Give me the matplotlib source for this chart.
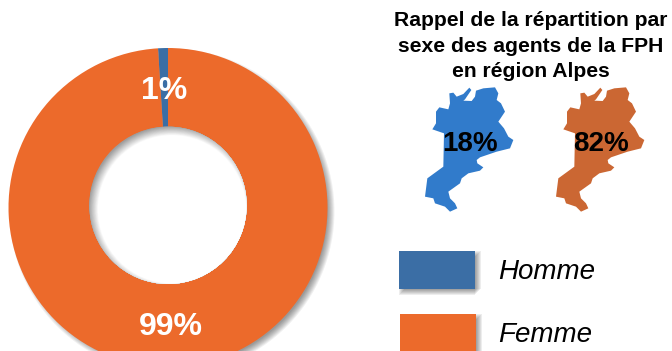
import matplotlib
matplotlib.use("Agg")
import matplotlib.pyplot as plt
from matplotlib.patches import Circle, Polygon, Rectangle

plt.rcParams['font.family'] = ['Liberation Sans', 'DejaVu Sans']

categories = ["Homme", "Femme"]
values = [1, 99]
region_values = [18, 82]
colors = ["#3B6EA5", "#EC6A2B"]
map_colors = ["#317BCB", "#CB6733"]
title = "Rappel de la répartition par\nsexe des agents de la FPH\nen région Alpes"

# Region outline (decorative map shape), in pixels relative to the zoomed crop
region_outline = [(148,70),(160,68),(170,80),(190,72),(208,53),(214,60),(195,88),(190,92),(215,93),
    (225,80),(228,62),(250,55),(285,52),(295,70),(290,90),(303,100),(315,125),(295,155),(312,175),
    (325,200),(340,210),(330,235),(290,245),(240,262),(230,270),(232,280),(250,292),(240,302),
    (205,310),(185,325),(180,340),(145,365),(150,385),(165,400),(172,415),(150,425),(135,410),
    (105,400),(100,385),(75,380),(82,325),(130,290),(132,190),(97,178),(108,160),(108,125),
    (118,112),(145,118),(150,100)]

W, H = 672, 351
fig = plt.figure(figsize=(W/100, H/100), dpi=100)
ax = fig.add_axes([0, 0, 1, 1])
cx, cy, R = 168, H-207.5, 159.5
hx, hy, r = 168, H-205.3, 78.7

ax.pie(values, colors=colors, startangle=90, counterclock=True, center=(cx, cy), radius=R,
       wedgeprops=dict(width=R-r+6, linewidth=0, zorder=2))
ax.set_xlim(0, W); ax.set_ylim(0, H); ax.set_aspect('equal'); ax.axis('off')

# soft outer shadow, lower right
for j in range(8):
    ax.add_patch(Circle((cx+4, cy-4), R+3-j, fc='black', alpha=0.06, ec='none', zorder=1))

# hole with inner shadow from the upper left
hole = Circle((hx, hy), r, fc=(0.62, 0.62, 0.62), ec='none', zorder=3)
ax.add_patch(hole)
n = 14
for i in range(n):
    t = i/(n-1)
    g = 0.62 + 0.38*t
    c = Circle((hx+4, hy-4), r+5-9.5*t, fc=(g, g, g), ec='none', zorder=3.1+i*0.01)
    ax.add_patch(c)
    c.set_clip_path(hole)

ax.text(164, H-91, f"{values[0]}%", color='white', fontsize=23, fontweight='bold', ha='center', va='center', zorder=5)
ax.text(171, H-327, f"{values[1]}%", color='white', fontsize=23, fontweight='bold', ha='center', va='center', zorder=5)

ax.text(531, H-46, title, fontsize=15.2, fontweight='bold', ha='center', va='center', linespacing=1.42, color='black')

for k, (dx, col, v) in enumerate(zip([0, 131], map_colors, region_values)):
    pts = [(400+x/3+dx, H-(70+y/3)) for x, y in region_outline]
    ax.add_patch(Polygon(pts, closed=True, fc=col, ec='none', zorder=2))
    ax.text(470+dx, H-144, f"{v}%", fontsize=20, fontweight='bold', ha='center', va='center', color='black', zorder=6)

# legend with soft shadows
boxes = [(399, 251, 76, 38), (400, 314, 76, 37)]
for (x, y, w, h), col, lab in zip(boxes, colors, categories):
    for j in range(7):
        s = j*1.0
        ax.add_patch(Rectangle((x+s, H-(y+h)-6+s), w, h, fc='black', alpha=0.07, ec='none', zorder=2))
    ax.add_patch(Rectangle((x, H-(y+h)), w, h, fc=col, ec='none', zorder=3))
    ax.text(498, H-(y+h/2)-2, lab, fontsize=20, style='italic', ha='left', va='center', color='black')

fig.savefig("out.png", dpi=100)
